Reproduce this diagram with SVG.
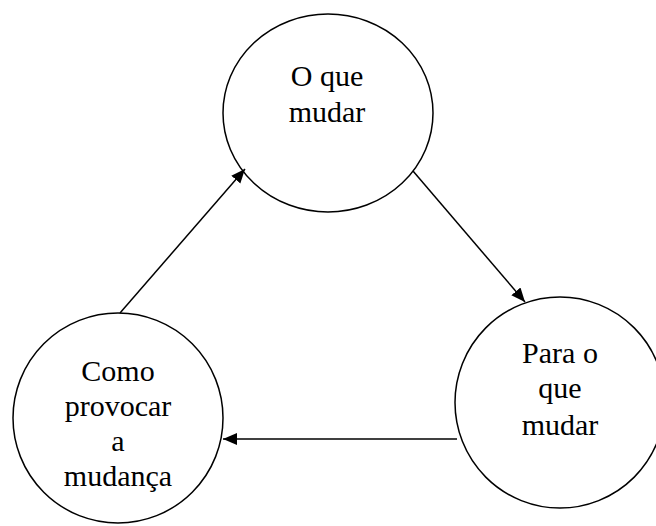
<svg xmlns="http://www.w3.org/2000/svg" width="656" height="526" viewBox="0 0 656 526">
<style>
.node ellipse{fill:#fff;stroke:#000;stroke-width:1.5}
.node text{font-size:30px;fill:#000;text-anchor:middle}
.conn line{stroke:#000;stroke-width:1.5;fill:none}
</style>
<defs>
<marker id="ah" markerWidth="16" markerHeight="14" refX="14" refY="6" orient="auto" markerUnits="userSpaceOnUse">
<path d="M0,0 L14,6 L0,12 Z" fill="#000"/>
</marker>
</defs>
<rect width="656" height="526" fill="#fff"/>
<g id="n1" class="node" font-family="Liberation Serif, Tinos, Times New Roman, DejaVu Serif, serif">
<ellipse cx="328" cy="113" rx="105" ry="99"/>
<text x="327" y="86">O que</text>
<text x="327" y="122">mudar</text>
</g>
<g id="n2" class="node" font-family="Liberation Serif, Tinos, Times New Roman, DejaVu Serif, serif">
<ellipse cx="560" cy="402.5" rx="105" ry="105.5"/>
<text x="560" y="363">Para o</text>
<text x="560" y="398">que</text>
<text x="560" y="435">mudar</text>
</g>
<g id="n3" class="node" font-family="Liberation Serif, Tinos, Times New Roman, DejaVu Serif, serif">
<ellipse cx="118" cy="418" rx="105" ry="105"/>
<text x="118" y="381">Como</text>
<text x="118" y="416">provocar</text>
<text x="118" y="451">a</text>
<text x="118" y="486">mudança</text>
</g>
<g id="connectors" class="conn">
<line x1="413" y1="171" x2="525" y2="302" marker-end="url(#ah)"/>
<line x1="457" y1="439" x2="223" y2="439" marker-end="url(#ah)"/>
<line x1="120" y1="313" x2="245" y2="169" marker-end="url(#ah)"/>
</g>
</svg>
